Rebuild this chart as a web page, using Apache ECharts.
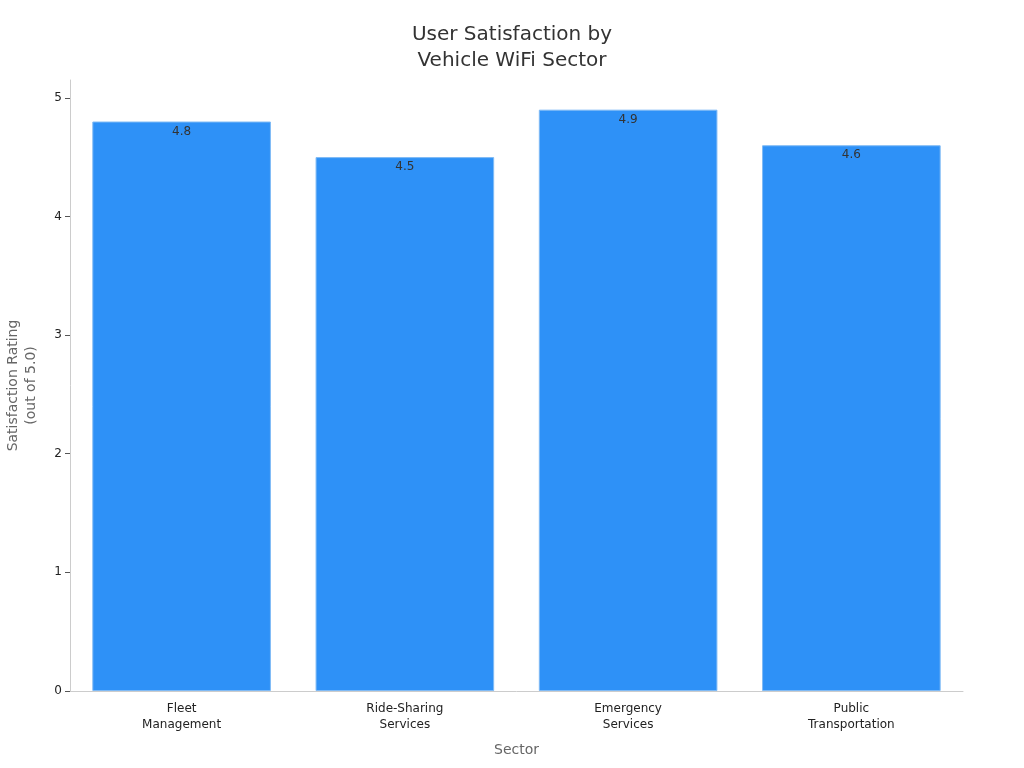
<!DOCTYPE html>
<html><head><meta charset="utf-8">
<script src="https://cdn.jsdelivr.net/npm/echarts@6/dist/echarts.min.js"></script>
<style>html,body{margin:0;padding:0;background:#fff}#c{width:1024px;height:768px}</style>
</head><body><div id="c"></div>
<script>
const categories = ["Fleet\nManagement", "Ride-Sharing\nServices", "Emergency\nServices", "Public\nTransportation"];
const ratings = [4.8, 4.5, 4.9, 4.6];
const chart = echarts.init(document.getElementById('c'));
chart.setOption({
  animation: false,
  textStyle: {fontFamily: 'DejaVu Sans'},
  title: {text: 'User Satisfaction by\nVehicle WiFi Sector', left: 'center', top: 17,
    textStyle: {fontSize: 20, fontWeight: 'normal', color: '#333', lineHeight: 26, fontFamily: 'DejaVu Sans'}},
  grid: {left: 70, right: 61, top: 80, bottom: 77, containLabel: false, outerBoundsMode: 'none'},
  xAxis: {type: 'category', data: categories, name: 'Sector', nameLocation: 'middle', nameGap: 52,
    nameTextStyle: {color: '#666', fontSize: 14},
    axisLine: {lineStyle: {color: '#ccc'}}, axisTick: {show: false},
    axisLabel: {color: '#222', fontSize: 12, lineHeight: 16, margin: 10}},
  yAxis: {type: 'value', min: 0, max: 5.15, interval: 1,
    name: 'Satisfaction Rating\n(out of 5.0)', nameLocation: 'middle', nameGap: 30,
    nameTextStyle: {color: '#666', fontSize: 14, lineHeight: 18},
    axisLine: {show: true, lineStyle: {color: '#ccc'}}, axisTick: {show: true, lineStyle: {color: '#555'}},
    splitLine: {show: false},
    axisLabel: {color: '#222', fontSize: 12, showMaxLabel: false, formatter: v => Number.isInteger(v) ? String(v) : ''}},
  series: [{type: 'bar', data: ratings, barCategoryGap: '20%',
    itemStyle: {color: '#2E91F7', borderColor: '#7FBAF5', borderWidth: 1},
    label: {show: true, position: 'insideTop', distance: 4, color: '#333', fontSize: 12}}]
});
</script></body></html>
